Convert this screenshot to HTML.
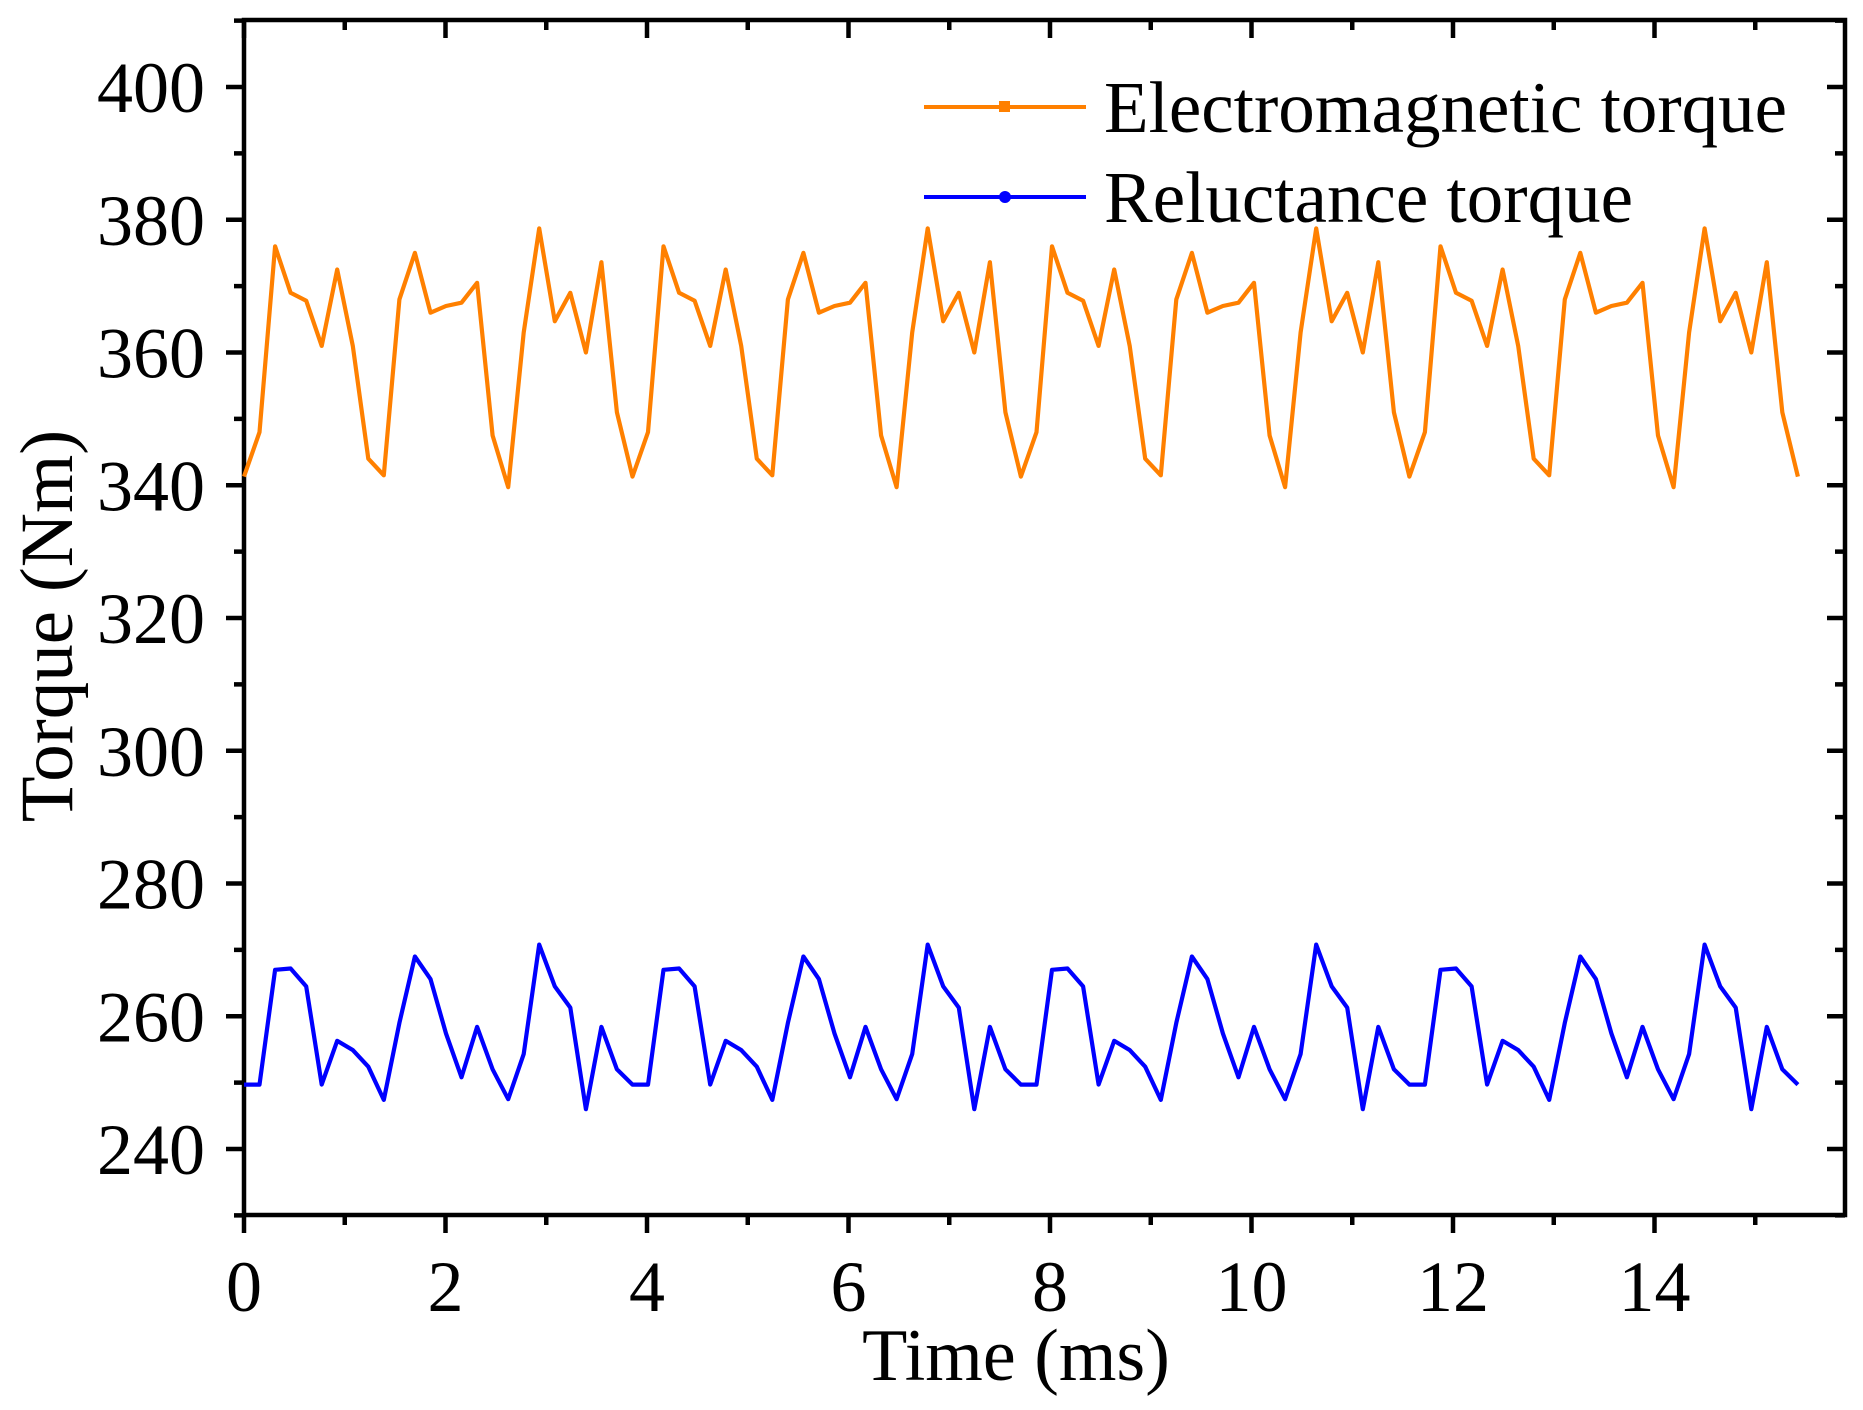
<!DOCTYPE html>
<html><head><meta charset="utf-8"><style>html,body{margin:0;padding:0;background:#fff}svg{display:block}</style></head>
<body>
<svg id="s" width="1863" height="1410" xmlns="http://www.w3.org/2000/svg" font-family="Liberation Serif, serif">
<rect width="1863" height="1410" fill="#fff"/>
<g id="ticks" stroke="#000" stroke-width="4.5"></g>
<rect x="244" y="20" width="1601" height="1195" fill="none" stroke="#000" stroke-width="4.5"/>
<polyline id="o" fill="none" stroke="#FF8000" stroke-width="4.2" stroke-linejoin="round"/>
<polyline id="b" fill="none" stroke="#0000FF" stroke-width="4.2" stroke-linejoin="round"/>
<g id="lab" font-size="72" fill="#000"></g>
<text x="1016" y="1380" font-size="74" text-anchor="middle">Time (ms)</text>
<text transform="translate(72,626) rotate(-90)" font-size="75" text-anchor="middle">Torque (Nm)</text>
<line x1="924" y1="107" x2="1086" y2="107" stroke="#FF8000" stroke-width="4"/>
<rect x="999" y="101" width="11" height="11" fill="#FF8000"/>
<text x="1104" y="132" font-size="73">Electromagnetic torque</text>
<line x1="924" y1="197" x2="1086" y2="197" stroke="#0000FF" stroke-width="4"/>
<circle cx="1005" cy="197" r="6" fill="#0000FF"/>
<text x="1104" y="222" font-size="73">Reluctance torque</text>
</svg>
<script>
var NS="http://www.w3.org/2000/svg";
function X(t){return 244+t*100.75;}
function Y(v){return 87+(400-v)*6.6375;}
var o=[341.3,348,376,369,367.8,361,372.5,361,344,341.5,368,375,366,367,367.5,370.5,347.5,339.7,363,378.7,364.7,369,360,373.6,351];
var b=[249.7,249.7,267,267.2,264.5,249.7,256.3,254.9,252.4,247.4,259,269,265.6,257.4,250.8,258.4,252,247.5,254.3,270.8,264.5,261.3,246,258.4,252];
var po="",pb="";
for(var i=0;i<=100;i++){var t=i*0.15423;po+=X(t).toFixed(1)+","+Y(o[i%25]).toFixed(1)+" ";pb+=X(t).toFixed(1)+","+Y(b[i%25]).toFixed(1)+" ";}
document.getElementById("o").setAttribute("points",po);
document.getElementById("b").setAttribute("points",pb);
var g=document.getElementById("ticks"),lab=document.getElementById("lab");
function ln(x1,y1,x2,y2){var l=document.createElementNS(NS,"line");l.setAttribute("x1",x1);l.setAttribute("y1",y1);l.setAttribute("x2",x2);l.setAttribute("y2",y2);g.appendChild(l);}
function tx(x,y,s,a){var e=document.createElementNS(NS,"text");e.setAttribute("x",x);e.setAttribute("y",y);e.setAttribute("text-anchor",a);e.textContent=s;lab.appendChild(e);}
for(var v=230;v<=410;v+=10){var y=Y(v),maj=(v%20==0);var L=maj?18:10;
 ln(244-L,y,244,y);ln(1845,y,1845-L,y);
 if(maj&&v>=240&&v<=400)tx(205,y+25,String(v),"end");}
for(var t=0;t<=15;t++){var x=X(t),maj=(t%2==0);var L=maj?18:10;
 ln(x,1215,x,1215+L);ln(x,20,x,20+L);
 if(maj)tx(x,1311,String(t),"middle");}
</script>
</body></html>
